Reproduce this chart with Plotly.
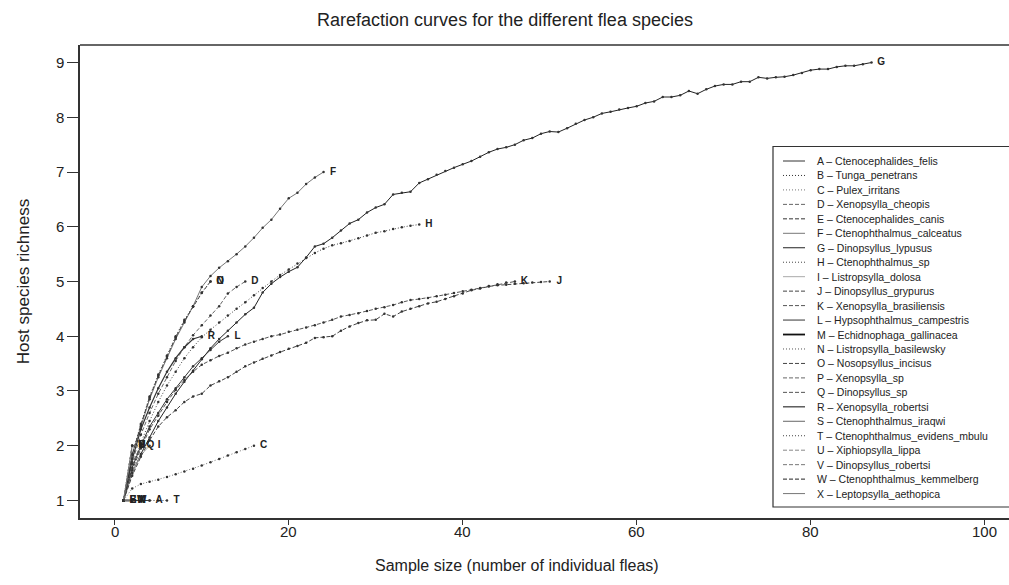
import plotly.graph_objects as go

# ---------------- data ----------------
letters = list("ABCDEFGHIJKLMNOPQRSTUVWX")
species_names = [
    "Ctenocephalides_felis", "Tunga_penetrans", "Pulex_irritans", "Xenopsylla_cheopis",
    "Ctenocephalides_canis", "Ctenophthalmus_calceatus", "Dinopsyllus_lypusus",
    "Ctenophthalmus_sp", "Listropsylla_dolosa", "Dinopsyllus_grypurus",
    "Xenopsylla_brasiliensis", "Hypsophthalmus_campestris", "Echidnophaga_gallinacea",
    "Listropsylla_basilewsky", "Nosopsyllus_incisus", "Xenopsylla_sp", "Dinopsyllus_sp",
    "Xenopsylla_robertsi", "Ctenophthalmus_iraqwi", "Ctenophthalmus_evidens_mbulu",
    "Xiphiopsylla_lippa", "Dinopsyllus_robertsi", "Ctenophthalmus_kemmelberg",
    "Leptopsylla_aethopica",
]

# expected host richness at sample size n = 1, 2, 3, ...
rich_A = [1, 1, 1, 1]
rich_B = [1]
rich_C = [1, 1.22, 1.30, 1.34, 1.38, 1.43, 1.48, 1.53, 1.58, 1.64, 1.70, 1.76, 1.82, 1.88, 1.94, 2.0]
rich_D = [1, 1.70, 2.20, 2.60, 2.95, 3.25, 3.55, 3.80, 4.02, 4.20, 4.38, 4.55, 4.78, 4.90, 5.0]
rich_E = [1]
rich_F = [1, 1.85, 2.35, 2.85, 3.25, 3.60, 3.95, 4.25, 4.55, 4.90, 5.10, 5.25, 5.37, 5.50,
          5.64, 5.80, 5.98, 6.13, 6.33, 6.52, 6.62, 6.78, 6.90, 7.0]
rich_G = [1, 1.50, 1.85, 2.15, 2.45, 2.70, 2.95, 3.17, 3.37, 3.58, 3.78, 3.95, 4.10, 4.25,
          4.40, 4.52, 4.80, 4.96, 5.08, 5.18, 5.26, 5.44, 5.64, 5.69, 5.80, 5.93, 6.06,
          6.13, 6.26, 6.35, 6.41, 6.59, 6.62, 6.64, 6.80, 6.87, 6.95, 7.02, 7.08, 7.14,
          7.20, 7.28, 7.36, 7.42, 7.45, 7.50, 7.58, 7.62, 7.70, 7.74, 7.73, 7.80, 7.88,
          7.95, 8.00, 8.07, 8.10, 8.14, 8.17, 8.20, 8.26, 8.29, 8.37, 8.37, 8.40, 8.48,
          8.43, 8.51, 8.57, 8.60, 8.60, 8.65, 8.65, 8.73, 8.71, 8.73, 8.74, 8.77, 8.81,
          8.86, 8.88, 8.88, 8.92, 8.94, 8.94, 8.97, 9.0]
rich_H = [1, 1.60, 2.05, 2.45, 2.80, 3.10, 3.35, 3.60, 3.80, 3.98, 4.12, 4.25, 4.38, 4.50,
          4.62, 4.75, 4.88, 5.00, 5.12, 5.22, 5.33, 5.43, 5.52, 5.60, 5.66, 5.70, 5.74,
          5.79, 5.84, 5.89, 5.92, 5.96, 5.99, 6.02, 6.04]
rich_I = [1, 1.50, 1.83, 2.0]
rich_J = [1, 1.45, 1.80, 2.10, 2.35, 2.52, 2.65, 2.80, 2.90, 2.95, 3.10, 3.18, 3.25, 3.35,
          3.45, 3.52, 3.59, 3.65, 3.71, 3.77, 3.82, 3.88, 3.97, 3.98, 4.00, 4.10, 4.18,
          4.24, 4.29, 4.30, 4.41, 4.36, 4.45, 4.50, 4.55, 4.60, 4.63, 4.68, 4.73, 4.78,
          4.84, 4.87, 4.91, 4.93, 4.94, 4.96, 4.97, 4.98, 4.99, 5.0]
rich_K = [1, 1.55, 1.95, 2.30, 2.55, 2.80, 3.02, 3.20, 3.35, 3.48, 3.56, 3.64, 3.70, 3.78,
          3.85, 3.90, 3.95, 4.00, 4.03, 4.08, 4.12, 4.16, 4.20, 4.25, 4.30, 4.36, 4.39,
          4.42, 4.46, 4.50, 4.53, 4.57, 4.62, 4.66, 4.68, 4.70, 4.73, 4.76, 4.79, 4.82,
          4.85, 4.88, 4.92, 4.95, 4.98, 5.0]
rich_L = [1, 1.60, 2.00, 2.35, 2.60, 2.85, 3.05, 3.25, 3.45, 3.60, 3.75, 3.90, 4.0]
rich_M = [1, 1]
rich_N = [1, 1.85, 2.40, 2.90, 3.30, 3.65, 4.00, 4.30, 4.55, 4.80, 5.0]
rich_O = [1, 1.83, 2.38, 2.88, 3.28, 3.63, 3.98, 4.28, 4.54, 4.79, 5.0]
rich_P = [1, 2]
rich_Q = [1, 1.67, 2.0]
rich_R = [1, 1.75, 2.30, 2.70, 3.05, 3.35, 3.60, 3.80, 3.95, 4.0]
rich_S = [1, 2]
rich_T = [1, 1, 1, 1, 1, 1]
rich_U = [1, 2]
rich_V = [1, 2]
rich_W = [1, 1]
rich_X = [1, 1]

x_ticks = [0, 20, 40, 60, 80, 100]
y_ticks = [1, 2, 3, 4, 5, 6, 7, 8, 9]

# ---------------- styles ----------------
DOT = "1px,2px"
DASH = "4px,2px"
line_style = {
    "A": ("solid", "#333", 1.0), "B": (DOT, "#333", 1.0), "C": (DOT, "#777", 1.0),
    "D": (DASH, "#666", 1.0), "E": (DASH, "#333", 1.0), "F": ("solid", "#777", 1.0),
    "G": ("solid", "#222", 1.0), "H": (DOT, "#444", 1.0), "I": ("solid", "#aaa", 1.0),
    "J": (DASH, "#444", 1.0), "K": (DASH, "#555", 1.0), "L": ("solid", "#333", 1.0),
    "M": ("solid", "#111", 1.8), "N": (DOT, "#555", 1.0), "O": (DASH, "#444", 1.0),
    "P": (DASH, "#666", 1.0), "Q": (DASH, "#555", 1.0), "R": ("solid", "#333", 1.2),
    "S": ("solid", "#666", 1.0), "T": (DOT, "#444", 1.0), "U": (DASH, "#888", 1.0),
    "V": (DASH, "#777", 1.0), "W": (DASH, "#222", 1.0), "X": ("solid", "#777", 1.0),
}
series = {k: globals()["rich_" + k] for k in letters}

fig = go.Figure()
for k in letters:
    ys = series[k]
    xs = list(range(1, len(ys) + 1))
    dash, col, w = line_style[k]
    fig.add_trace(go.Scatter(
        x=xs, y=ys, mode="lines+markers",
        line=dict(color=col, width=w, dash=dash),
        marker=dict(size=2.5, color="#333"),
        showlegend=False, hoverinfo="skip",
    ))
# curve end labels
for k in letters:
    ys = series[k]
    fig.add_trace(go.Scatter(
        x=[len(ys) + 1.1], y=[ys[-1]], mode="text", text=["<b>" + k + "</b>"],
        textposition="middle center",
        textfont=dict(family="Liberation Sans, Arial", size=10, color="#222"),
        showlegend=False, hoverinfo="skip",
    ))

# ---------------- layout ----------------
L, T, B = 80, 45, 67
W, H = 1009, 585
pw, ph = W - L, H - T - B
px_per_x = 8.698

def px_x(p):
    return (p - L) / pw

def px_y(p):
    return (H - B - p) / ph

shapes = [
    dict(type="line", xref="paper", yref="paper", x0=0, x1=1, y0=1, y1=1,
         line=dict(color="#333", width=1.5)),
    dict(type="rect", xref="paper", yref="paper", x0=px_x(773), x1=px_x(1030),
         y0=px_y(507), y1=px_y(146.5), line=dict(color="#333", width=1.2),
         fillcolor="white", layer="above"),
]
annotations = [
    dict(xref="paper", yref="paper", x=px_x(517), y=px_y(565), xanchor="center",
         yanchor="middle", showarrow=False,
         text="Sample size (number of individual fleas)",
         font=dict(family="Liberation Sans, Arial", size=16, color="#222")),
]
# x tick labels (placed closer to the axis than plotly's default)
for tv in x_ticks:
    annotations.append(dict(xref="x", yref="paper", x=tv, y=px_y(531), xanchor="center",
                            yanchor="middle", showarrow=False, text=str(tv),
                            font=dict(family="Liberation Sans, Arial", size=15, color="#222")))
for i, k in enumerate(letters):
    yy = px_y(161 + i * 14.46)
    dash, col, w = line_style[k]
    shapes.append(dict(type="line", xref="paper", yref="paper", x0=px_x(783), x1=px_x(805),
                       y0=yy, y1=yy, line=dict(color=col, width=w, dash=dash), layer="above"))
    annotations.append(dict(xref="paper", yref="paper", x=px_x(815), y=yy, xanchor="left",
                            yanchor="middle", showarrow=False,
                            text=k + " \u2013 " + species_names[i],
                            font=dict(family="Liberation Sans, Arial", size=10.5, color="#222")))

fig.update_layout(
    width=W, height=H,
    margin=dict(l=L, r=0, t=T, b=B, autoexpand=False),
    paper_bgcolor="white", plot_bgcolor="white",
    font=dict(family="Liberation Sans, Arial", color="#222"),
    title=dict(text="Rarefaction curves for the different flea species", xref="container",
               x=505 / W, xanchor="center", y=1 - 20 / H, yanchor="middle",
               font=dict(size=18, color="#222")),
    xaxis=dict(range=[-4, -4 + pw / px_per_x], tickvals=x_ticks, ticks="outside", ticklen=5,
               showticklabels=False,
               tickcolor="#333", showgrid=False, zeroline=False,
               showline=True, linecolor="#333", linewidth=1.5),
    yaxis=dict(range=[0.68, 9.32], tickvals=y_ticks, ticks="outside", ticklen=11,
               tickcolor="#333", tickfont=dict(size=15), showgrid=False, zeroline=False,
               showline=True, linecolor="#333", linewidth=1.5,
               title=dict(text="Host species richness", font=dict(size=17), standoff=22)),
    shapes=shapes, annotations=annotations,
)

fig.write_html("out.html")
